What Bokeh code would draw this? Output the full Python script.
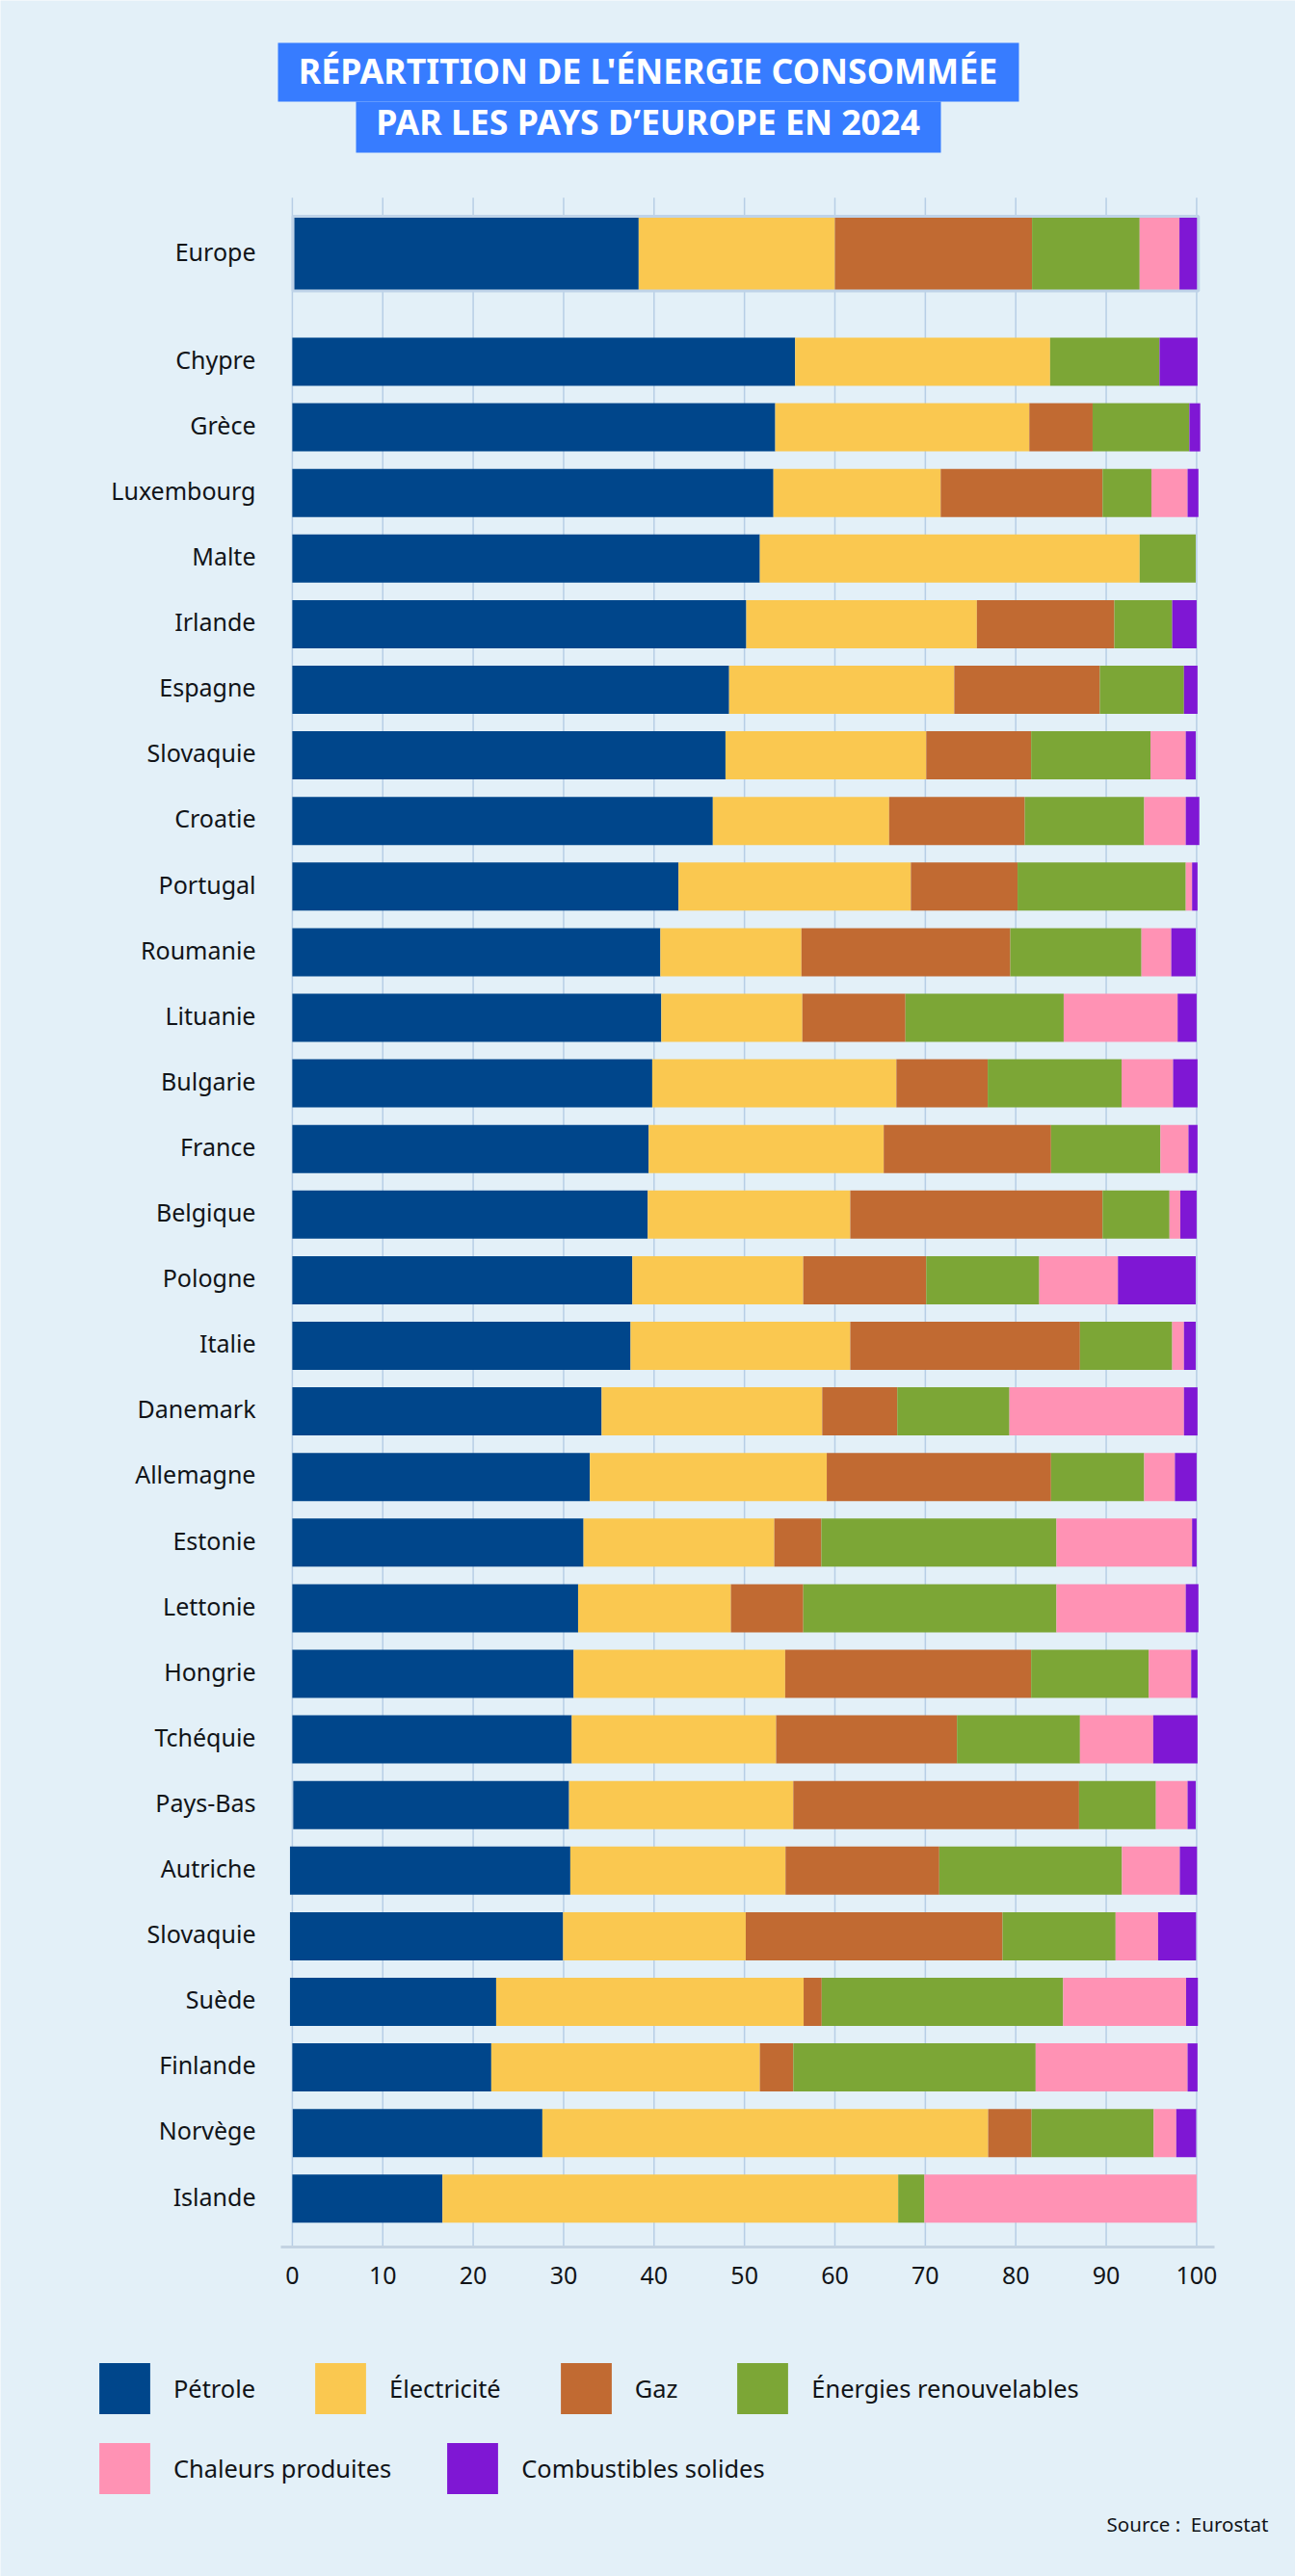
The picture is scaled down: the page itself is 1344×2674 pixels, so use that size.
from bokeh.plotting import figure
from bokeh.models import ColumnDataSource, Label, Legend, LegendItem, FixedTicker, Range1d, LinearAxis, BoxAnnotation
from bokeh.embed import file_html
from bokeh.resources import INLINE
import numpy as np

pays = ["Europe", "Chypre", "Grèce", "Luxembourg", "Malte", "Irlande", "Espagne", "Slovaquie",
        "Croatie", "Portugal", "Roumanie", "Lituanie", "Bulgarie", "France", "Belgique", "Pologne",
        "Italie", "Danemark", "Allemagne", "Estonie", "Lettonie", "Hongrie", "Tchéquie", "Pays-Bas",
        "Autriche", "Slovaquie", "Suède", "Finlande", "Norvège", "Islande"]
debut = [0.07, 0, 0, 0, 0, 0, 0, 0, 0, 0, 0, 0, 0, 0, 0, 0, 0, 0, 0, 0, 0, 0, 0, 0.1,
         -0.26, -0.26, -0.26, 0, 0.05, 0]
petrole = [38.23, 55.6, 53.4, 53.2, 51.7, 50.2, 48.3, 47.9, 46.5, 42.7, 40.7, 40.8, 39.8, 39.4, 39.3,
           37.6, 37.4, 34.2, 32.9, 32.2, 31.6, 31.1, 30.9, 30.5, 31.0, 30.2, 22.8, 22.0, 27.6, 16.6]
electricite = [21.7, 28.2, 28.1, 18.5, 42.0, 25.5, 24.9, 22.2, 19.5, 25.7, 15.6, 15.6, 27.0, 26.0, 22.4,
               18.9, 24.3, 24.4, 26.2, 21.1, 16.9, 23.4, 22.6, 24.8, 23.8, 20.2, 34.0, 29.7, 49.3, 50.4]
gaz = [21.8, 0, 7.0, 17.9, 0, 15.2, 16.1, 11.6, 15.0, 11.8, 23.1, 11.4, 10.1, 18.5, 27.9,
       13.6, 25.4, 8.3, 24.8, 5.2, 8.0, 27.2, 20.0, 31.6, 17.0, 28.4, 2.0, 3.7, 4.8, 0]
renouvelables = [11.9, 12.1, 10.7, 5.4, 6.2, 6.4, 9.3, 13.2, 13.2, 18.6, 14.5, 17.5, 14.8, 12.1, 7.4,
                 12.5, 10.2, 12.4, 10.3, 26.0, 28.0, 13.0, 13.6, 8.5, 20.2, 12.5, 26.7, 26.8, 13.5, 2.9]
chaleurs = [4.4, 0, 0, 4.0, 0, 0, 0, 3.9, 4.6, 0.7, 3.3, 12.6, 5.7, 3.1, 1.2,
            8.7, 1.3, 19.3, 3.4, 15.0, 14.3, 4.7, 8.1, 3.5, 6.4, 4.7, 13.6, 16.8, 2.5, 30.1]
solides = [2.1, 4.2, 1.2, 1.2, 0, 2.7, 1.5, 1.1, 1.5, 0.6, 2.7, 2.1, 2.7, 1.0, 1.8,
           8.6, 1.3, 1.5, 2.4, 0.5, 1.4, 0.7, 4.9, 0.9, 1.9, 4.2, 1.3, 1.1, 2.2, 0]
rangs = [-1.648] + list(range(29))
hauteurs = [1.112] + [0.734] * 29
graduations = [0, 10, 20, 30, 40, 50, 60, 70, 80, 90, 100]

series = [("Pétrole", petrole, "#00468B"), ("Électricité", electricite, "#FAC850"),
          ("Gaz", gaz, "#C16A32"), ("Énergies renouvelables", renouvelables, "#7CA636"),
          ("Chaleurs produites", chaleurs, "#FF92B4"), ("Combustibles solides", solides, "#7F17D4")]

FOND = "#E3F0F8"
BLEU = "#377CFF"
POLICE = "Noto Sans"
ENCRE = "#111418"
W, H = 1344, 2674
GAUCHE, DROITE, HAUT, BAS = -1.27, 101.98, -2.5, 28.74

p = figure(width=W, height=H, output_backend="svg", toolbar_location=None,
           x_range=Range1d(-302.9 / 9.385, (W - 302.9) / 9.385),
           y_range=Range1d((H - 375) / 68.1, -375 / 68.1),
           x_axis_location=None, y_axis_location=None,
           min_border=0, min_border_left=0, min_border_right=0, min_border_top=0, min_border_bottom=0,
           background_fill_color=FOND, border_fill_color=FOND, outline_line_color=None)
p.grid.visible = False

# grille verticale, limitée à la zone du graphique
p.segment(x0=graduations, x1=graduations, y0=[HAUT] * len(graduations), y1=[BAS] * len(graduations),
          line_color="#B7CEE5", line_width=1.5)

cumul = np.array(debut, dtype=float)
items = []
for nom, valeurs, couleur in series:
    gauche = cumul.copy()
    cumul = cumul + np.array(valeurs)
    src = ColumnDataSource(dict(y=rangs, left=gauche, right=cumul, h=hauteurs))
    r = p.hbar(y="y", left="left", right="right", height="h", source=src,
               fill_color=couleur, line_color=None)
    items.append(LegendItem(label=nom, renderers=[r]))

# contour de la barre Europe
p.hbar(y=rangs[:1], left=[debut[0]], right=[cumul[0]], height=[1.14], fill_color=None,
       line_color="#BFD3E8", line_width=3)

# axes
etiquettes = [r - 0.04 for r in rangs]
ax_x = LinearAxis(fixed_location=BAS, bounds=(GAUCHE, DROITE), ticker=FixedTicker(ticks=graduations))
ax_y = LinearAxis(fixed_location=GAUCHE, bounds=(HAUT, BAS), ticker=FixedTicker(ticks=etiquettes),
                  major_label_overrides={r: n for r, n in zip(etiquettes, pays)})
for ax in (ax_x, ax_y):
    ax.major_tick_line_color = None
    ax.minor_tick_line_color = None
    ax.major_label_text_font = POLICE
    ax.major_label_text_font_size = "25px"
    ax.major_label_text_color = ENCRE
ax_y.axis_line_color = None
ax_y.major_label_standoff = 20
ax_x.axis_line_color = "#C3D3E2"
ax_x.axis_line_width = 3
ax_x.major_label_standoff = 14
p.add_layout(ax_x, "below")
p.add_layout(ax_y, "left")

# titre
p.add_layout(BoxAnnotation(left=288, right=1057, top=H - 44, bottom=H - 105,
                           left_units="screen", right_units="screen", top_units="screen", bottom_units="screen",
                           fill_color=BLEU, fill_alpha=1, line_color=None))
p.add_layout(BoxAnnotation(left=369, right=976, top=H - 105, bottom=H - 158,
                           left_units="screen", right_units="screen", top_units="screen", bottom_units="screen",
                           fill_color=BLEU, fill_alpha=1, line_color=None))
for texte, yc in [("RÉPARTITION DE L'ÉNERGIE CONSOMMÉE", H - 72), ("PAR LES PAYS D’EUROPE EN 2024", H - 125)]:
    p.add_layout(Label(x=672, y=yc, x_units="screen", y_units="screen",
                       text=texte, text_font=POLICE, text_font_size="35.7px", text_font_style="bold",
                       text_color="white", text_align="center", text_baseline="middle"))

# légende (le symbole occupe 80 % de sa case)
def legende(elements, y_bas, espace):
    lg = Legend(items=elements, orientation="horizontal", location=(96, H - y_bas - 7),
                spacing=espace, glyph_width=66, glyph_height=66, label_standoff=18,
                label_text_font=POLICE, label_text_font_size="25.4px", label_text_color=ENCRE,
                background_fill_alpha=0, border_line_color=None, margin=0, padding=0)
    p.add_layout(lg)

legende(items[:4], 2505, 55)
legende(items[4:], 2588, 51)

p.add_layout(Label(x=1316, y=H - 2619, x_units="screen", y_units="screen",
                   text="Source :\u00a0\u00a0Eurostat", text_font=POLICE, text_font_size="20.5px",
                   text_color=ENCRE, text_align="right", text_baseline="middle"))

open("out.html", "w").write(file_html(p, INLINE))
